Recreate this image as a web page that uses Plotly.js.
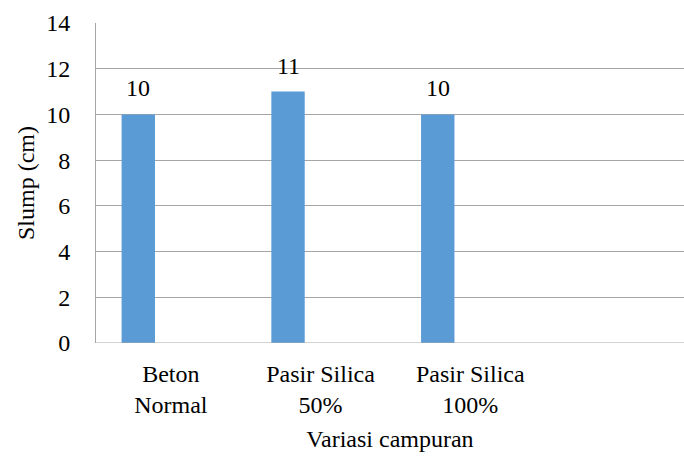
<!DOCTYPE html>
<html>
<head>
<meta charset="utf-8">
<script src="https://cdn.plot.ly/plotly-3.0.1.min.js"></script>
</head>
<body style="margin:0;padding:0;background:#fff">
<div id="chart" style="width:684px;height:464px"></div>
<script>
const categories = ["Beton<br>Normal", "Pasir Silica<br>50%", "Pasir Silica<br>100%"];
const slumpValues = [10, 11, 10];
const yTicks = [0, 2, 4, 6, 8, 10, 12, 14];

const idx = categories.map((c, i) => i);
const barWidth = 0.223;
const barOffset = -0.329;
const serifFamily = 'Liberation Serif, Tinos, Times New Roman, serif';

const trace = {
  type: 'bar',
  x: idx,
  y: slumpValues,
  width: barWidth,
  offset: barOffset,
  marker: {color: '#5B9BD5'},
  hoverinfo: 'none'
};

const annotations = slumpValues.map((v, i) => ({
  x: i + barOffset + barWidth / 2,
  y: v,
  xref: 'x', yref: 'y',
  text: String(v),
  showarrow: false,
  yanchor: 'bottom',
  yshift: 11,
  font: {family: serifFamily, size: 24, color: '#000'}
}));

const layout = {
  width: 684, height: 464,
  margin: {l: 95.5, r: 0, t: 23, b: 120.5},
  paper_bgcolor: '#fff', plot_bgcolor: '#fff',
  showlegend: false,
  xaxis: {
    range: [-0.5, 3.427],
    tickmode: 'array',
    tickvals: idx,
    ticktext: categories,
    showgrid: false,
    zeroline: false,
    showline: false,
    ticks: '',
    ticklabelstandoff: 14,
    tickfont: {family: serifFamily, size: 24, color: '#000'},
    title: {text: 'Variasi campuran', font: {family: serifFamily, size: 24, color: '#000'}, standoff: 12}
  },
  yaxis: {
    range: [0, 14],
    tickmode: 'array',
    tickvals: yTicks,
    showgrid: true,
    gridcolor: '#a6a6a6',
    gridwidth: 1,
    zeroline: false,
    showline: true,
    linecolor: '#a6a6a6',
    linewidth: 1,
    ticks: '',
    ticklabelstandoff: 20,
    tickfont: {family: serifFamily, size: 24, color: '#000'},
    title: {text: 'Slump (cm)', font: {family: serifFamily, size: 24, color: '#000'}, standoff: 4}
  },
  shapes: [{
    type: 'line', xref: 'paper', yref: 'y', x0: 0, x1: 1, y0: 0, y1: 0,
    line: {color: '#a6a6a6', width: 1}
  }],
  annotations: annotations
};

Plotly.newPlot('chart', [trace], layout, {displayModeBar: false, staticPlot: true});
</script>
</body>
</html>
